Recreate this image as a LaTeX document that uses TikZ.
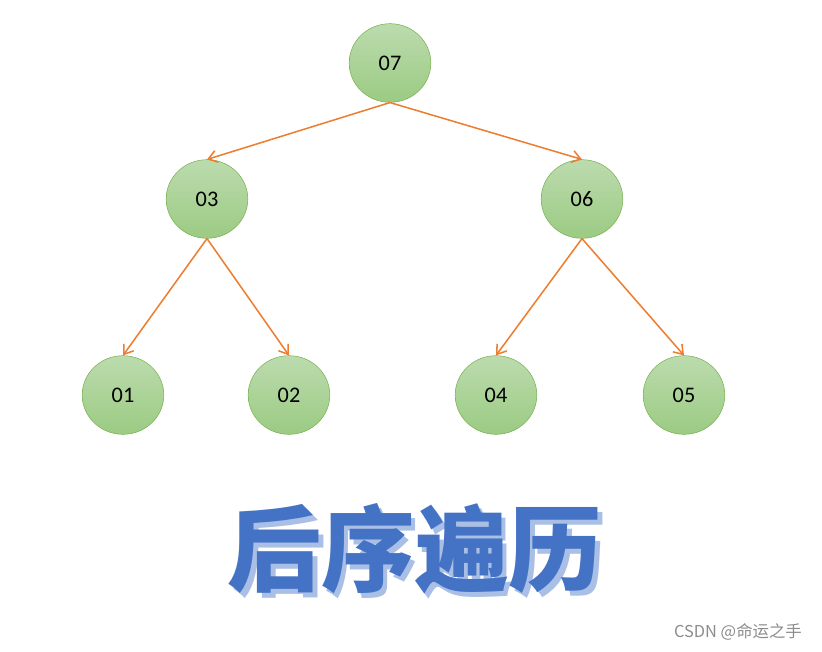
\documentclass[tikz,border=0pt]{standalone}
\usepackage{fontspec}
\setmainfont{Carlito}
\newfontfamily\cjkfont{Noto Sans CJK SC}
\usetikzlibrary{arrows.meta,shapes.geometric}
\definecolor{LeafTop}{HTML}{BCDBAE}
\definecolor{LeafBot}{HTML}{9BCB83}
\definecolor{LeafEdge}{HTML}{70AD47}
\definecolor{Branch}{HTML}{ED7D31}
\definecolor{TitleBlue}{HTML}{4472C4}
\definecolor{TitleShade}{HTML}{A9BFE6}
\definecolor{MarkGray}{HTML}{8C8C8C}
\newcommand{\shadowed}[1]{\makebox[0pt][l]{\hspace{4pt}\raisebox{-4pt}{\color{TitleShade}#1}}#1}
\tikzset{
  treenode/.style={
    ellipse, draw=LeafEdge, thin, top color=LeafTop, bottom color=LeafBot,
    minimum width=2.45cm, minimum height=2.36cm, inner sep=0pt,
    font=\fontsize{19}{21}\selectfont
  },
  branch/.style={-{Straight Barb[length=2.6mm,width=3.6mm]}, line width=1.3pt, draw=Branch},
  title/.style={font=\cjkfont\fontsize{80}{88}\selectfont\bfseries, inner sep=0pt}
}

\begin{document}
\begin{tikzpicture}[x=0.03cm,y=-0.03cm]
    \useasboundingbox (0,0) rectangle (822,651);
    \node[treenode] (n7) at (390,63) {07};
    \node[treenode] (n3) at (207,199) {03};
    \node[treenode] (n6) at (582,199) {06};
    \node[treenode] (n1) at (123,395) {01};
    \node[treenode] (n2) at (289,395) {02};
    \node[treenode] (n4) at (496,395) {04};
    \node[treenode] (n5) at (684,395) {05};
    \draw[branch] (n7.south)--(n3.north);
    \draw[branch] (n7.south)--(n6.north);
    \draw[branch] (n3.south)--(n1.north);
    \draw[branch] (n3.south)--(n2.north);
    \draw[branch] (n6.south)--(n4.north);
    \draw[branch] (n6.south)--(n5.north);
    % title with a soft shadow
    \node[title,text=TitleBlue] (head) at (415,551) {\shadowed{后序遍历}};
    \node[font=\cjkfont\fontsize{14}{16}\selectfont,text=MarkGray,anchor=east] (mark) at (806,632) {CSDN @命运之手};
  \end{tikzpicture}
\end{document}
